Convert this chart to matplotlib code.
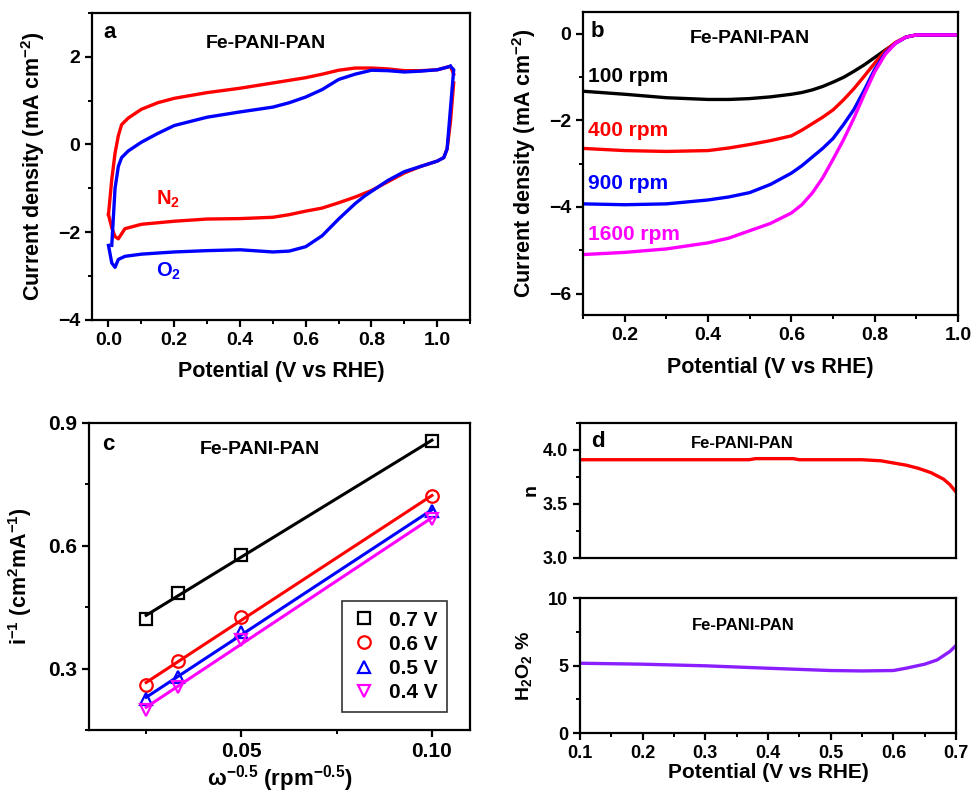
import numpy as np
import matplotlib
matplotlib.use("Agg")
import matplotlib.pyplot as plt
from matplotlib.ticker import MultipleLocator

plt.rcParams['font.family'] = ['Liberation Sans', 'DejaVu Sans']
plt.rcParams['font.weight'] = 'bold'
plt.rcParams['axes.labelweight'] = 'bold'
plt.rcParams['mathtext.default'] = 'regular'
plt.rcParams['axes.linewidth'] = 1.6

# ---- panel a: CV in N2 / O2 ----
n2_fwd_x = [0.0, 0.01, 0.02, 0.03, 0.04, 0.06, 0.1, 0.15, 0.2, 0.3, 0.4, 0.5, 0.6, 0.65, 0.7, 0.75, 0.8, 0.85, 0.9, 0.95, 1.0, 1.04, 1.05]
n2_fwd_y = [-1.6, -0.8, -0.2, 0.2, 0.45, 0.6, 0.8, 0.95, 1.05, 1.18, 1.28, 1.4, 1.52, 1.6, 1.69, 1.74, 1.74, 1.72, 1.68, 1.68, 1.7, 1.78, 1.6]
n2_rev_x = [1.05, 1.04, 1.03, 1.02, 1.0, 0.95, 0.9, 0.85, 0.8, 0.75, 0.7, 0.65, 0.6, 0.55, 0.5, 0.4, 0.3, 0.2, 0.1, 0.05, 0.03, 0.02, 0.01, 0.0]
n2_rev_y = [1.4, 0.5, -0.1, -0.3, -0.38, -0.5, -0.65, -0.85, -1.05, -1.2, -1.33, -1.45, -1.52, -1.6, -1.66, -1.69, -1.7, -1.75, -1.82, -1.92, -2.15, -2.1, -1.9, -1.6]
o2_fwd_x = [0.01, 0.02, 0.03, 0.04, 0.06, 0.1, 0.15, 0.2, 0.3, 0.4, 0.5, 0.55, 0.6, 0.65, 0.7, 0.75, 0.8, 0.85, 0.9, 0.95, 1.0, 1.04]
o2_fwd_y = [-2.3, -1.0, -0.5, -0.3, -0.15, 0.05, 0.25, 0.43, 0.62, 0.74, 0.85, 0.95, 1.08, 1.25, 1.48, 1.6, 1.69, 1.68, 1.65, 1.67, 1.7, 1.78]
o2_rev_x = [1.04, 1.05, 1.04, 1.03, 1.02, 1.0, 0.95, 0.9, 0.85, 0.8, 0.78, 0.75, 0.7, 0.65, 0.6, 0.55, 0.5, 0.4, 0.3, 0.2, 0.1, 0.05, 0.03, 0.02, 0.01, 0.0]
o2_rev_y = [1.78, 1.7, 0.8, -0.1, -0.3, -0.38, -0.5, -0.62, -0.82, -1.07, -1.17, -1.35, -1.7, -2.08, -2.33, -2.43, -2.45, -2.4, -2.42, -2.45, -2.5, -2.55, -2.62, -2.8, -2.7, -2.3]

# ---- panel b: LSV at rotation rates ----
lsv_x = [0.1, 0.2, 0.3, 0.4, 0.45, 0.5, 0.55, 0.6, 0.625, 0.65, 0.675, 0.7, 0.725, 0.75, 0.775, 0.8, 0.825, 0.85, 0.875, 0.9, 1.0]
lsv_100 = [-1.33, -1.4, -1.48, -1.52, -1.52, -1.5, -1.46, -1.4, -1.36, -1.3, -1.22, -1.12, -1.01, -0.87, -0.72, -0.55, -0.38, -0.22, -0.08, -0.03, -0.03]
lsv_400 = [-2.65, -2.7, -2.72, -2.7, -2.64, -2.56, -2.47, -2.36, -2.23, -2.08, -1.93, -1.76, -1.53, -1.27, -0.98, -0.68, -0.4, -0.2, -0.08, -0.03, -0.03]
lsv_900 = [-3.93, -3.95, -3.93, -3.84, -3.77, -3.67, -3.48, -3.22, -3.05, -2.85, -2.65, -2.42, -2.1, -1.75, -1.3, -0.82, -0.45, -0.22, -0.08, -0.03, -0.03]
lsv_1600 = [-5.1, -5.05, -4.97, -4.83, -4.72, -4.55, -4.38, -4.14, -3.95, -3.68, -3.33, -2.9, -2.45, -1.95, -1.4, -0.88, -0.48, -0.22, -0.08, -0.03, -0.03]
rpm_labels = ['100 rpm', '400 rpm', '900 rpm', '1600 rpm']
rpm_label_y = [-0.98, -2.23, -3.45, -4.64]

# ---- panel c: K-L plot ----
omega = [0.025, 0.0333, 0.05, 0.1]
kl_07 = [0.42, 0.485, 0.577, 0.855]
kl_06 = [0.26, 0.318, 0.425, 0.72]
kl_05 = [0.225, 0.28, 0.39, 0.685]
kl_04 = [0.2, 0.255, 0.37, 0.665]
kl_labels = ['0.7 V', '0.6 V', '0.5 V', '0.4 V']

# ---- panel d: electron number and H2O2 yield ----
n_x = [0.1, 0.2, 0.3, 0.37, 0.38, 0.44, 0.45, 0.55, 0.58, 0.6, 0.62, 0.64, 0.66, 0.68, 0.69, 0.7]
n_y = [3.91, 3.91, 3.91, 3.91, 3.92, 3.92, 3.91, 3.91, 3.9, 3.88, 3.86, 3.83, 3.79, 3.73, 3.68, 3.61]
h2o2_x = [0.1, 0.2, 0.3, 0.4, 0.5, 0.55, 0.6, 0.62, 0.65, 0.67, 0.69, 0.7]
h2o2_y = [5.17, 5.1, 4.98, 4.8, 4.63, 4.6, 4.63, 4.8, 5.1, 5.42, 6.04, 6.49]

fig = plt.figure(figsize=(9.77, 7.96), dpi=100)


def style(ax, fs=14):
    ax.tick_params(which='major', direction='out', length=5, width=1.6, labelsize=fs, top=False, right=False)
    ax.tick_params(which='minor', direction='out', length=3, width=1.4, top=False, right=False)


# a
ax = fig.add_axes([0.0942, 0.598, 0.387, 0.386])
ax.plot(n2_fwd_x, n2_fwd_y, color='red', lw=2.4)
ax.plot(n2_rev_x, n2_rev_y, color='red', lw=2.4)
ax.plot(o2_fwd_x, o2_fwd_y, color='blue', lw=2.4)
ax.plot(o2_rev_x, o2_rev_y, color='blue', lw=2.4)
ax.set_xlim(-0.05, 1.1)
ax.set_ylim(-4, 3)
ax.xaxis.set_minor_locator(MultipleLocator(0.1))
ax.yaxis.set_major_locator(MultipleLocator(2))
ax.yaxis.set_minor_locator(MultipleLocator(1))
ax.set_xticks([0, 0.2, 0.4, 0.6, 0.8, 1.0])
ax.set_xticklabels(['0.0', '0.2', '0.4', '0.6', '0.8', '1.0'])
style(ax)
ax.set_xlabel('Potential (V vs RHE)', fontsize=15.5, labelpad=9)
ax.set_ylabel('Current density (mA cm$^{-2}$)', fontsize=15.5, labelpad=8)
ax.text(0.03, 0.935, 'a', transform=ax.transAxes, fontsize=16, va='center')
ax.text(0.46, 0.90, 'Fe-PANI-PAN', transform=ax.transAxes, fontsize=14, ha='center', va='center')
ax.text(0.145, -1.25, 'N$_2$', color='red', fontsize=14.5, va='center')
ax.text(0.145, -2.9, 'O$_2$', color='blue', fontsize=14.5, va='center')

# b
ax = fig.add_axes([0.5967, 0.604, 0.384, 0.381])
colors_b = ['black', 'red', 'blue', '#ff00ff']
for yy, c, lab, ly in zip([lsv_100, lsv_400, lsv_900, lsv_1600], colors_b, rpm_labels, rpm_label_y):
    ax.plot(lsv_x, yy, color=c, lw=2.4)
    ax.text(0.112, ly, lab, color=c, fontsize=15, va='center')
ax.set_xlim(0.1, 1.0)
ax.set_ylim(-6.5, 0.5)
ax.xaxis.set_major_locator(MultipleLocator(0.2))
ax.xaxis.set_minor_locator(MultipleLocator(0.1))
ax.yaxis.set_major_locator(MultipleLocator(2))
ax.yaxis.set_minor_locator(MultipleLocator(1))
style(ax)
ax.set_xlabel('Potential (V vs RHE)', fontsize=15.5, labelpad=9)
ax.set_ylabel('Current density (mA cm$^{-2}$)', fontsize=15.5, labelpad=8)
ax.text(0.02, 0.934, 'b', transform=ax.transAxes, fontsize=16, va='center')
ax.text(0.445, 0.914, 'Fe-PANI-PAN', transform=ax.transAxes, fontsize=14, ha='center', va='center')

# c
ax = fig.add_axes([0.0911, 0.0829, 0.39, 0.386])
markers = ['s', 'o', '^', 'v']
colors_c = ['black', 'red', 'blue', '#ff00ff']
for yy, c, m, lab in zip([kl_07, kl_06, kl_05, kl_04], colors_c, markers, kl_labels):
    k, b = np.polyfit(omega, yy, 1)
    xs = np.array([omega[0], omega[-1]])
    ax.plot(xs, k * xs + b, color=c, lw=2.2)
    ax.plot(omega, yy, ls='none', marker=m, ms=9, mfc='none', mec=c, mew=1.6, label=lab)
ax.set_xlim(0.01, 0.11)
ax.set_ylim(0.15, 0.9)
ax.set_xticks([0.05, 0.10])
ax.set_xticklabels(['0.05', '0.10'])
ax.xaxis.set_minor_locator(MultipleLocator(0.025))
ax.yaxis.set_major_locator(MultipleLocator(0.3))
ax.yaxis.set_minor_locator(MultipleLocator(0.15))
style(ax, fs=15)
ax.set_xlabel(r'$\omega^{-0.5}$ (rpm$^{-0.5}$)', fontsize=16, labelpad=2)
ax.set_ylabel('i$^{-1}$ (cm$^2$mA$^{-1}$)', fontsize=15.5, labelpad=10)
ax.text(0.034, 0.928, 'c', transform=ax.transAxes, fontsize=16, va='center')
ax.text(0.449, 0.912, 'Fe-PANI-PAN', transform=ax.transAxes, fontsize=14, ha='center', va='center')
leg = ax.legend(loc='lower right', bbox_to_anchor=(0.94, 0.06), borderaxespad=0, fontsize=15,
                frameon=True, fancybox=False, edgecolor='black', handletextpad=0.6,
                labelspacing=0.25, handlelength=1.2, borderpad=0.45)
leg.get_frame().set_linewidth(1.2)

# d top
ax = fig.add_axes([0.5936, 0.299, 0.385, 0.1696])
ax.plot(n_x, n_y, color='red', lw=2.4)
ax.set_xlim(0.1, 0.7)
ax.set_ylim(3.0, 4.25)
ax.yaxis.set_minor_locator(MultipleLocator(0.25))
style(ax, fs=13)
ax.tick_params(axis='x', which='both', bottom=False, labelbottom=False)
ax.set_yticks([3.0, 3.5, 4.0])
ax.set_yticklabels(['3.0', '3.5', '4.0'])
ax.set_ylabel('n', fontsize=14, labelpad=2)
ax.text(0.03, 0.86, 'd', transform=ax.transAxes, fontsize=16, va='center')
ax.text(0.431, 0.85, 'Fe-PANI-PAN', transform=ax.transAxes, fontsize=12, ha='center', va='center')

# d bottom
ax = fig.add_axes([0.5936, 0.0791, 0.385, 0.1696])
ax.plot(h2o2_x, h2o2_y, color='#8b1eff', lw=2.4)
ax.set_xlim(0.1, 0.7)
ax.set_ylim(0, 10)
ax.xaxis.set_major_locator(MultipleLocator(0.1))
ax.xaxis.set_minor_locator(MultipleLocator(0.05))
ax.yaxis.set_major_locator(MultipleLocator(5))
ax.yaxis.set_minor_locator(MultipleLocator(2.5))
style(ax, fs=13)
ax.set_xlabel('Potential (V vs RHE)', fontsize=15, labelpad=1)
ax.set_ylabel('H$_2$O$_2$ %', fontsize=14, labelpad=10)
ax.text(0.433, 0.80, 'Fe-PANI-PAN', transform=ax.transAxes, fontsize=12, ha='center', va='center')

fig.savefig('out.png', dpi=100)
